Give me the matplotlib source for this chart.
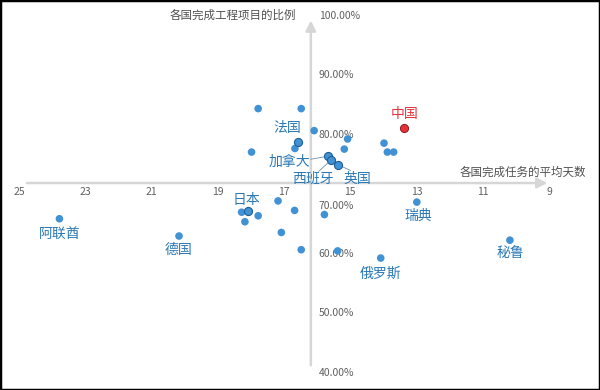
import matplotlib
matplotlib.use("Agg")
import matplotlib.pyplot as plt
from matplotlib.patches import Rectangle

plt.rcParams['font.family'] = ['Noto Sans CJK SC', 'DejaVu Sans']

# ---- data ----
days = [23.78, 20.17, 18.28, 18.09, 18.18, 17.78, 17.18, 16.68, 17.08, 16.48,
        15.78, 15.38, 14.08, 12.99, 10.18, 17.78, 16.48, 16.09, 16.58, 16.67,
        17.98, 15.68, 15.59, 15.38, 15.08, 15.18, 13.98, 13.88, 13.69, 13.39]
ratio = [0.659, 0.630, 0.670, 0.672, 0.654, 0.664, 0.689, 0.673, 0.636, 0.607,
         0.666, 0.605, 0.593, 0.687, 0.623, 0.844, 0.844, 0.807, 0.788, 0.777,
         0.771, 0.764, 0.757, 0.750, 0.793, 0.776, 0.786, 0.771, 0.771, 0.812]
names = ['阿联酋', '德国', '', '日本', '', '', '', '', '', '',
         '', '', '俄罗斯', '瑞典', '秘鲁', '', '', '', '法国', '',
         '', '加拿大', '西班牙', '英国', '', '', '', '', '', '中国']
outlined = ['日本', '法国', '加拿大', '西班牙', '英国']
highlight = '中国'

x_ticks = [25, 23, 21, 19, 17, 15, 13, 11, 9]
y_ticks = [0.4, 0.5, 0.6, 0.7, 0.8, 0.9, 1.0]
x_cross = 16.19   # where vertical axis crosses
y_cross = 0.719   # where horizontal axis crosses
x_title = '各国完成任务的平均天数'
y_title = '各国完成工程项目的比例'

# label offsets in pixels (dx, dy) relative to point
label_off = {
    '阿联酋': (0, -16), '德国': (0, -14), '日本': (-1, 11), '俄罗斯': (0, -16),
    '瑞典': (1, -14), '秘鲁': (1, -14), '法国': (-11, 14), '加拿大': (-38, -6),
    '西班牙': (-18, -18), '英国': (20, -14), '中国': (1, 14),
}

blue = '#4192D4'
blue_dark = '#1E5E96'
blue_text = '#2B78B5'
red = '#E8303A'
red_text = '#E2343C'
axis_col = '#D6D6D6'
tick_col = '#606060'

fig = plt.figure(figsize=(6, 3.9), dpi=100)
ax = fig.add_axes([0, 0, 1, 1])
ax.set_xlim(25.574, 7.460)
ax.set_ylim(0.3714, 1.0264)
ax.axis('off')

# axes lines with arrows
ax.annotate('', xy=(9.05, y_cross), xytext=(24.76, y_cross),
            arrowprops=dict(arrowstyle='-|>,head_length=0.6,head_width=0.3',
                            color=axis_col, lw=1.8, shrinkA=0, shrinkB=0))
ax.annotate('', xy=(x_cross, 0.992), xytext=(x_cross, 0.413),
            arrowprops=dict(arrowstyle='-|>,head_length=0.6,head_width=0.3',
                            color=axis_col, lw=1.8, shrinkA=0, shrinkB=0))

# tick labels
for t in x_ticks:
    ax.annotate(str(t), xy=(t, y_cross), xytext=(0, -9), textcoords='offset pixels',
                ha='center', va='center', fontsize=7.5, color=tick_col)
for t in y_ticks:
    dy = -12 if abs(t - 0.7) < 1e-9 else 0
    ax.annotate(f'{t*100:.2f}%', xy=(x_cross, t), xytext=(8, dy), textcoords='offset pixels',
                ha='left', va='center', fontsize=7.5, color=tick_col)

# axis titles
ax.annotate(y_title, xy=(x_cross, 1.0), xytext=(-78, 0), textcoords='offset pixels',
            ha='center', va='center', fontsize=8.3, color='#505050')
ax.annotate(x_title, xy=(9, y_cross), xytext=(-26, 11), textcoords='offset pixels',
            ha='center', va='center', fontsize=8.3, color='#505050')

# points
for x, y, n in zip(days, ratio, names):
    if n == highlight:
        ax.scatter([x], [y], s=34, color=red, edgecolor='#8B1A1F', linewidth=0.7, zorder=5)
    elif n in outlined:
        ax.scatter([x], [y], s=34, color=blue, edgecolor=blue_dark, linewidth=0.8, zorder=5)
    else:
        ax.scatter([x], [y], s=30, color=blue, edgecolor='none', zorder=4)

# labels
for x, y, n in zip(days, ratio, names):
    if not n:
        continue
    dx, dy = label_off[n]
    col = red_text if n == highlight else blue_text
    ax.annotate(n, xy=(x, y), xytext=(dx, dy), textcoords='offset pixels',
                ha='center', va='center', fontsize=10, color=col, zorder=6)

# leader lines
leader = {'加拿大': (-17, -3), '西班牙': (-12, -11), '英国': (13, -6)}
for x, y, n in zip(days, ratio, names):
    if n in leader:
        dx, dy = leader[n]
        ax.annotate('', xy=(x, y), xytext=(dx, dy), textcoords='offset pixels',
                    arrowprops=dict(arrowstyle='-', color='#6F8FA8', lw=0.6,
                                    shrinkA=0, shrinkB=3))

# frame border
fig.patches.append(Rectangle((0, 0), 1, 1, transform=fig.transFigure, fill=False,
                             edgecolor='black', linewidth=2.5, zorder=10))

fig.savefig('out.png', dpi=100, facecolor='white')
